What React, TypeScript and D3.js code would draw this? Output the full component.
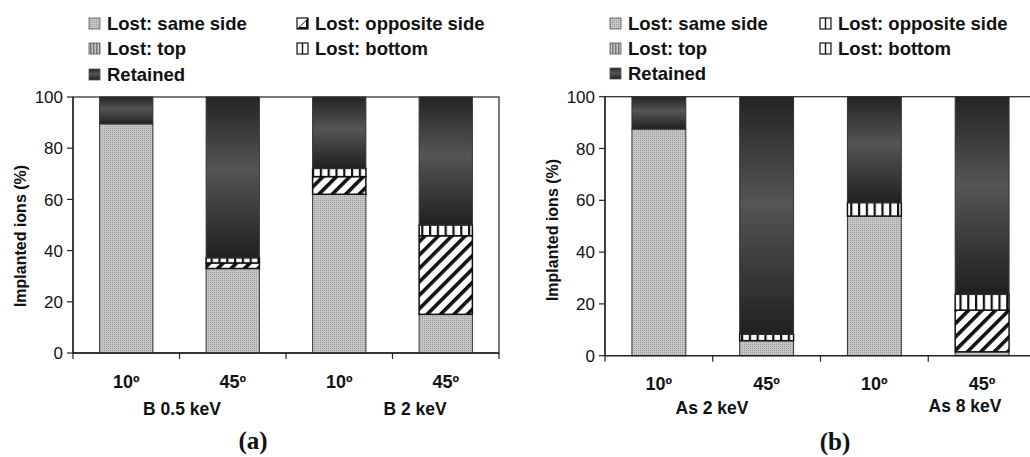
import React from "react";
import * as d3 from "d3";

// ---- data ----
const categoriesA = ["10º", "45º", "10º", "45º"];
const groupsA = ["B 0.5 keV", "B 2 keV"];
const sameA = [89.5, 33, 62, 15.1];
const oppA = [0, 2.2, 6.9, 30.7];
const topA = [0, 0, 0, 0];
const bottomA = [0, 2, 3.2, 4.2];

const categoriesB = ["10º", "45º", "10º", "45º"];
const groupsB = ["As 2 keV", "As 8 keV"];
const sameB = [87.5, 5.8, 53.9, 1.5];
const oppB = [0, 0, 0, 16.1];
const topB = [0, 0, 0, 0];
const bottomB = [0, 2.5, 5.2, 6.1];

const legendLabels = ["Lost: same side", "Lost: opposite side", "Lost: top", "Lost: bottom", "Retained"];
const yTicks = [0, 20, 40, 60, 80, 100];
const yLabel = "Implanted ions (%)";
const keys = ["same", "opp", "bottom", "top", "retained"];

const FONT = "'Liberation Sans', Arial, Helvetica, sans-serif";

function buildRows(same: number[], opp: number[], top: number[], bottom: number[]) {
  return same.map((s, i) => ({
    idx: i,
    same: s,
    opp: opp[i],
    top: top[i],
    bottom: bottom[i],
    retained: 100 - s - opp[i] - top[i] - bottom[i],
  }));
}

const fills: Record<string, string> = {
  same: "url(#pSame)",
  opp: "url(#pOpp)",
  top: "url(#pTop)",
  bottom: "url(#pBottom)",
  retained: "url(#gRet)",
};

type PanelProps = {
  id: string;
  x0: number; x1: number; y0: number; y1: number;
  categories: string[];
  groups: string[];
  rows: any[];
  catY: number;
  groupPos: { x: number; y: number }[];
  yLab: { x: number; y: number };
  legendX: number[];
  legendY: number[];
  oppIconStriped: boolean;
  caption: string;
  captionPos: { x: number; y: number };
};

function LegendIcon({ k, x, y, striped }: { k: string; x: number; y: number; striped: boolean }) {
  const s = 11;
  if (k === "opp" && !striped) {
    return (
      <g>
        <rect x={x} y={y} width={s} height={s} fill="#fff" stroke="#111" strokeWidth={1.2} />
        <polygon points={`${x + s},${y} ${x + s},${y + s} ${x},${y + s}`} fill="#111" />
        <polygon points={`${x + 3},${y + s - 2} ${x + s - 2},${y + 3} ${x + s - 2},${y + s - 2}`} fill="#fff" />
      </g>
    );
  }
  if (k === "bottom" || k === "opp") {
    return (
      <g>
        <rect x={x} y={y} width={s} height={s} fill="#fff" stroke="#111" strokeWidth={1.2} />
        <line x1={x + s / 2} x2={x + s / 2} y1={y} y2={y + s} stroke="#111" strokeWidth={1.4} />
      </g>
    );
  }
  return <rect x={x} y={y} width={s} height={s} fill={fills[k]} stroke="#555" strokeWidth={0.8} />;
}

function Panel(p: PanelProps) {
  const x = d3
    .scaleBand<number>()
    .domain(p.rows.map((r) => r.idx))
    .range([p.x0, p.x1])
    .paddingInner(0.5)
    .paddingOuter(0.25);
  const y = d3.scaleLinear().domain([0, 100]).range([p.y0, p.y1]);
  const stack = d3.stack<any>().keys(keys);
  const series = stack(p.rows);
  const step = x.step();
  const boundaries = d3.range(p.rows.length + 1).map((i) => p.x0 + i * step);

  const legendOrder = ["same", "opp", "top", "bottom", "retained"];

  return (
    <g>
      <rect x={p.x0} y={y(100)} width={p.x1 - p.x0} height={p.y0 - y(100)} fill="#fff" stroke="#333" strokeWidth={1.3} />
      {series.map((s) => (
        <g key={s.key}>
          {s.map((d, i) =>
            d[1] - d[0] > 0.01 ? (
              <rect
                key={i}
                x={x(i)!}
                y={y(d[1])}
                width={x.bandwidth()}
                height={y(d[0]) - y(d[1])}
                fill={fills[s.key]}
                stroke={s.key === "bottom" || s.key === "opp" ? "#111" : "#333"}
                strokeWidth={s.key === "bottom" || s.key === "opp" ? 1.5 : 1}
              />
            ) : null
          )}
        </g>
      ))}
      <line x1={p.x0} x2={p.x0} y1={p.y0} y2={y(100)} stroke="#222" strokeWidth={1.3} />
      {yTicks.map((t) => (
        <g key={t}>
          <line x1={p.x0 - 6} x2={p.x0} y1={y(t)} y2={y(t)} stroke="#222" strokeWidth={1.2} />
          <text x={p.x0 - 10} y={y(t)} dy="0.36em" textAnchor="end" fontSize={17} fontFamily={FONT} fill="#111">
            {t}
          </text>
        </g>
      ))}
      <line x1={p.x0} x2={p.x1} y1={p.y0} y2={p.y0} stroke="#222" strokeWidth={1.3} />
      {boundaries.map((b, i) => (
        <line key={i} x1={b} x2={b} y1={p.y0} y2={p.y0 + 6} stroke="#222" strokeWidth={1.2} />
      ))}
      {p.categories.map((c, i) => (
        <text key={i} x={x(i)! + x.bandwidth() / 2} y={p.catY} textAnchor="middle" fontSize={18} fontWeight="bold" fontFamily={FONT} fill="#111">
          {c}
        </text>
      ))}
      {p.groups.map((g, i) => (
        <text key={g} x={p.groupPos[i].x} y={p.groupPos[i].y} textAnchor="middle" fontSize={17.5} fontWeight="bold" fontFamily={FONT} fill="#111">
          {g}
        </text>
      ))}
      <text
        transform={`translate(${p.yLab.x},${p.yLab.y}) rotate(-90)`}
        textAnchor="middle"
        dominantBaseline="central"
        fontSize={16}
        fontWeight="bold"
        fontFamily={FONT}
        fill="#111"
      >
        {yLabel}
      </text>
      {legendOrder.map((k, i) => {
        const col = i % 2;
        const row = Math.floor(i / 2);
        const lx = p.legendX[col];
        const ly = p.legendY[row];
        return (
          <g key={k}>
            <LegendIcon k={k} x={lx} y={ly - 12} striped={p.oppIconStriped} />
            <text x={lx + 18} y={ly} fontSize={18.5} fontWeight="bold" fontFamily={FONT} fill="#111">
              {legendLabels[i]}
            </text>
          </g>
        );
      })}
      <text x={p.captionPos.x} y={p.captionPos.y} textAnchor="middle" fontSize={25} fontWeight="bold" fontFamily="'Liberation Serif', 'Times New Roman', serif" fill="#111">
        {p.caption}
      </text>
    </g>
  );
}

export default function App() {
  const rowsA = buildRows(sameA, oppA, topA, bottomA);
  const rowsB = buildRows(sameB, oppB, topB, bottomB);
  return (
    <svg width={1030} height={457} style={{ position: "absolute", left: 0, top: 0, background: "#fff" }}>
      <defs>
        <pattern id="pSame" patternUnits="userSpaceOnUse" width={2} height={2}>
          <rect width={2} height={2} fill="#c6c6c6" />
          <rect width={1} height={1} fill="#9e9e9e" />
        </pattern>
        <pattern id="pTop" patternUnits="userSpaceOnUse" width={3} height={3}>
          <rect width={3} height={3} fill="#c8c8c8" />
          <rect width={1.5} height={3} fill="#777" />
        </pattern>
        <pattern id="pOpp" patternUnits="userSpaceOnUse" width={9.5} height={9.5} patternTransform="rotate(45)">
          <rect width={9.5} height={9.5} fill="#fff" />
          <rect width={3.6} height={9.5} fill="#111" />
        </pattern>
        <pattern id="pBottom" patternUnits="userSpaceOnUse" width={7.8} height={8}>
          <rect width={7.8} height={8} fill="#fff" />
          <rect width={2.2} height={8} fill="#111" />
        </pattern>
        <linearGradient id="gRet" x1="0" y1="0" x2="0" y2="1">
          <stop offset="0" stopColor="#242424" />
          <stop offset="0.45" stopColor="#555" />
          <stop offset="1" stopColor="#202020" />
        </linearGradient>
      </defs>
      <Panel
        id="a"
        x0={73}
        x1={499}
        y0={353}
        y1={97}
        categories={categoriesA}
        groups={groupsA}
        rows={rowsA}
        catY={388}
        groupPos={[{ x: 182, y: 415 }, { x: 415, y: 415 }]}
        yLab={{ x: 20, y: 236 }}
        legendX={[89, 297]}
        legendY={[30, 55, 81]}
        oppIconStriped={false}
        caption="(a)"
        captionPos={{ x: 253, y: 449 }}
      />
      <Panel
        id="b"
        x0={605}
        x1={1036}
        y0={355.7}
        y1={96.7}
        categories={categoriesB}
        groups={groupsB}
        rows={rowsB}
        catY={390}
        groupPos={[{ x: 712, y: 414 }, { x: 965, y: 412 }]}
        yLab={{ x: 552, y: 230 }}
        legendX={[610, 820]}
        legendY={[30, 55, 80]}
        oppIconStriped={true}
        caption="(b)"
        captionPos={{ x: 835, y: 450 }}
      />
    </svg>
  );
}
